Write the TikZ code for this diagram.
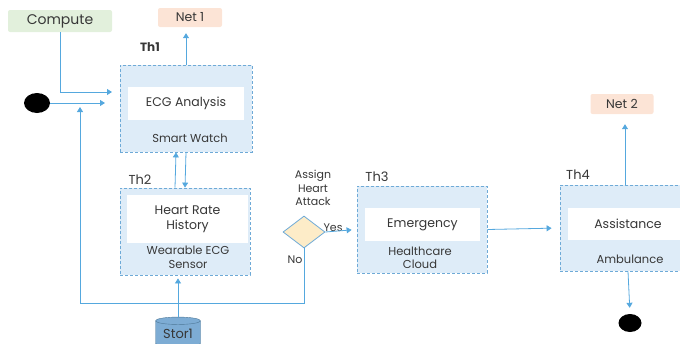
\documentclass[tikz,border=0pt]{standalone}
\usepackage{fontspec}
\setmainfont{Poppins}
\usetikzlibrary{arrows.meta, shapes.geometric}
\definecolor{boxc}{RGB}{222,236,248}
\definecolor{bordc}{RGB}{110,170,215}
\definecolor{arrc}{RGB}{85,168,222}
\definecolor{txtc}{RGB}{55,55,55}
\definecolor{greenc}{RGB}{226,240,220}
\definecolor{peachc}{RGB}{252,228,214}
\definecolor{diac}{RGB}{253,236,200}
\definecolor{storc}{RGB}{125,172,212}
\tikzset{
    grp/.style={draw=bordc, dash pattern=on 3pt off 2pt, thick, fill=boxc, inner sep=0},
    inbox/.style={fill=white, inner sep=0, align=center, text=txtc, font=\fontsize{12.5}{15}\selectfont},
    lbl/.style={text=txtc, align=center, font=\fontsize{11.5}{13.5}\selectfont},
    arr/.style={arrc, thick, -{Triangle[length=5pt,width=6pt]}},
    tag/.style={text=txtc, rounded corners=2pt, inner sep=0, font=\fontsize{12.5}{15}\selectfont},
    blob/.style={ellipse, fill=black, inner sep=0}
}
\begin{document}
\begin{tikzpicture}[x=1pt,y=-1pt]
            \useasboundingbox (0,0) rectangle (680,343);
            \clip (0,0) rectangle (680,343);
            \node[tag, fill=greenc, minimum width=104pt, minimum height=22pt, font=\fontsize{14}{16}\selectfont] (compute) at (60,21) {Compute};
            \node[tag, fill=peachc, minimum width=64pt, minimum height=19pt] (net1) at (190,17.5) {Net 1};
            \node[tag, fill=peachc, minimum width=63pt, minimum height=20pt] (net2) at (622,104) {Net 2};
            \node[blob, minimum width=26pt, minimum height=20pt] (start) at (37,103) {};
            \node[blob, minimum width=23pt, minimum height=18pt] (stop) at (630,323) {};
            \node[grp, minimum width=132pt, minimum height=87pt] (th1) at (186,108.5) {};
            \node[inbox, minimum width=116pt, minimum height=33pt] (ecg) at (186,103.5) {ECG Analysis};
            \node[lbl] (watch) at (190,138) {Smart Watch};
            \node[lbl, font=\fontsize{12}{14}\selectfont] (lth1) at (150,47) {\textbf{Th1}};
            \node[grp, minimum width=130pt, minimum height=87pt] (th2) at (185,231.5) {};
            \node[inbox, minimum width=121pt, minimum height=48pt] (hist) at (187.5,219) {Heart Rate\\History};
            \node[lbl] (sensor) at (188,257.5) {Wearable ECG\\Sensor};
            \node[lbl, font=\fontsize{13}{15}\selectfont] (lth2) at (140,180) {Th2};
            \node[grp, minimum width=130pt, minimum height=87pt] (th3) at (422,229.5) {};
            \node[inbox, minimum width=115pt, minimum height=33pt] (emerg) at (422.5,224.5) {Emergency};
            \node[lbl] (cloud) at (420,258) {Healthcare\\Cloud};
            \node[lbl, font=\fontsize{13}{15}\selectfont] (lth3) at (377,177) {Th3};
            \node[grp, minimum width=136pt, minimum height=86pt] (th4) at (628,228) {};
            \node[inbox, minimum width=120pt, minimum height=32pt] (assist) at (628,224) {Assistance};
            \node[lbl] (amb) at (630,259) {Ambulance};
            \node[lbl, font=\fontsize{13}{15}\selectfont] (lth4) at (578,175) {Th4};
            \node[diamond, draw=bordc, thick, fill=diac, minimum width=42pt, minimum height=32pt, inner sep=0] (dec) at (304,232) {};
            \node[lbl, font=\fontsize{11}{13.5}\selectfont] (ask) at (313,188) {Assign\\Heart\\Attack};
            \node[lbl, font=\fontsize{11}{13}\selectfont] (yes) at (333,228) {Yes};
            \node[lbl, font=\fontsize{11}{13}\selectfont] (no) at (295,260) {No};
            \node[cylinder, shape border rotate=90, aspect=0.25, draw=bordc!70!black, fill=storc, minimum width=45pt, minimum height=30pt, inner sep=0, text=txtc, font=\fontsize{13}{15}\selectfont] (stor) at (178,334) {Stor1};
            \coordinate (in1) at (112,92);
            \coordinate (in2) at (105,103);
            \coordinate (in3) at (80,107);
            \coordinate (bend) at (80,303);
            \draw[arr] (compute.south) |- (in1);
            \draw[arr] (start.east) -- (in2);
            \draw[arr] (dec.south) |- (bend) -- (in3);
            \draw[arr, shorten >=6pt] (th1.north) -- (th1.north |- net1.south);
            \draw[arr] ([xshift=-10pt]th2.north) -- ([xshift=-10pt]th1.south);
            \draw[arr] (th1.south) -- (th2.north);
            \draw[arr, shorten >=3pt] (stor.north) -- (stor.north |- th2.south);
            \draw[arr, shorten >=5pt] (dec.east) -- (th3.west);
            \draw[arr, shorten >=8pt] (th3.east) -- (th4.west);
            \draw[arr, shorten >=10pt] ([xshift=-3pt]th4.north) -- ([xshift=-3pt]th4.north |- net2.south);
            \draw[arr, shorten >=6pt] (th4.south) -- (stop.north);
\end{tikzpicture}
\end{document}
